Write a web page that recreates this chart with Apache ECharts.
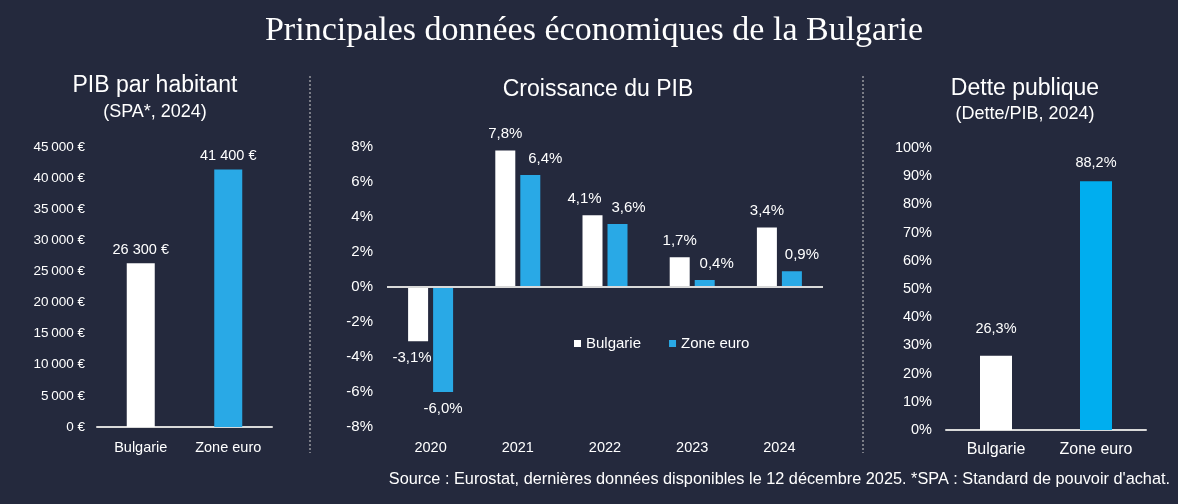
<!DOCTYPE html>
<html>
<head>
<meta charset="utf-8">
<script src="https://cdn.jsdelivr.net/npm/echarts@6/dist/echarts.min.js"></script>
<style>
html,body{margin:0;padding:0;background:#24293d;}
#c{width:1178px;height:504px;}
</style>
</head>
<body>
<div id="c"></div>
<script>
// ---- data ----
const pibCategories = ['Bulgarie', 'Zone euro'];
const pibValues = [26300, 41400];
const pibTicks = { min: 0, max: 45000, interval: 5000 };

const growthYears = ['2020', '2021', '2022', '2023', '2024'];
const growthBulgarie = [-3.1, 7.8, 4.1, 1.7, 3.4];
const growthZoneEuro = [-6.0, 6.4, 3.6, 0.4, 0.9];
const growthTicks = { min: -8, max: 8, interval: 2 };

const detteCategories = ['Bulgarie', 'Zone euro'];
const detteValues = [26.3, 88.2];
const detteTicks = { min: 0, max: 100, interval: 10 };

const seriesNames = ['Bulgarie', 'Zone euro'];

// ---- style ----
const BG = '#24293d';
const WHITE = '#ffffff';
const BLUE = '#29a9e6';
const BLUE2 = '#00aeef';
const AXIS = '#d9d9d9';
const SANS = '"Liberation Sans", Arial, Helvetica, sans-serif';
// horizontal nudges of the value labels in the growth panel (layout only)
const shiftBulgarie = [-6, 0, -8, 0, 0];
const shiftZone = [0, 15, 11, 12, 10];

function thin(n) {
  return String(n).replace(/\B(?=(\d{3})+(?!\d))/g, '\u2009');
}
function spaced(n) {
  return String(n).replace(/\B(?=(\d{3})+(?!\d))/g, ' ');
}
function pct(v) { return String(v.toFixed(1)).replace('.', ','); }

const chart = echarts.init(document.getElementById('c'));

const axisLabelBase = { color: WHITE, fontSize: 13, fontFamily: SANS };
const titleStyle = { color: WHITE, fontSize: 23, fontWeight: 'normal', fontFamily: SANS };
const subStyle = { color: WHITE, fontSize: 18, fontWeight: 'normal', fontFamily: SANS };

const option = {
  backgroundColor: BG,
  animation: false,
  title: [
    { text: 'Principales données économiques de la Bulgarie', left: 589, top: 9, textAlign: 'center',
      textStyle: { color: WHITE, fontSize: 34, fontWeight: 'normal', fontFamily: '"Liberation Serif", "DejaVu Serif", serif' } },
    { text: 'PIB par habitant', left: 155, top: 74, textAlign: 'center', padding: 0, textStyle: titleStyle },
    { text: '(SPA*, 2024)', left: 155, top: 103, textAlign: 'center', padding: 0, textStyle: subStyle },
    { text: 'Croissance du PIB', left: 598, top: 78, textAlign: 'center', padding: 0, textStyle: titleStyle },
    { text: 'Dette publique', left: 1025, top: 77, textAlign: 'center', padding: 0, textStyle: titleStyle },
    { text: '(Dette/PIB, 2024)', left: 1025, top: 105, textAlign: 'center', padding: 0, textStyle: subStyle }
  ],
  legend: {
    data: seriesNames,
    left: 569, top: 331,
    icon: 'rect', itemWidth: 7, itemHeight: 7, itemGap: 28,
    textStyle: { color: WHITE, fontSize: 15, fontFamily: SANS }
  },
  grid: [
    { left: 97, width: 175, top: 147, height: 280 },
    { left: 387, width: 436, top: 147, height: 280 },
    { left: 946, width: 200, top: 148, height: 282 }
  ],
  xAxis: [
    { type: 'category', gridIndex: 0, data: pibCategories,
      axisLine: { lineStyle: { color: AXIS, width: 2 } }, axisTick: { show: false },
      axisLabel: Object.assign({}, axisLabelBase, { fontSize: 14.5, margin: 13 }) },
    { type: 'category', gridIndex: 1, data: growthYears,
      axisLine: { show: false, onZero: false }, axisTick: { show: false },
      axisLabel: Object.assign({}, axisLabelBase, { fontSize: 14.5, margin: 13 }) },
    { type: 'category', gridIndex: 2, data: detteCategories,
      axisLine: { lineStyle: { color: AXIS, width: 2 } }, axisTick: { show: false },
      axisLabel: Object.assign({}, axisLabelBase, { fontSize: 16, margin: 12 }) }
  ],
  yAxis: [
    { type: 'value', gridIndex: 0, min: pibTicks.min, max: pibTicks.max, interval: pibTicks.interval,
      splitLine: { show: false }, axisLine: { show: false }, axisTick: { show: false },
      axisLabel: Object.assign({}, axisLabelBase, { fontSize: 13.5, margin: 12, formatter: v => thin(v) + ' €' }) },
    { type: 'value', gridIndex: 1, min: growthTicks.min, max: growthTicks.max, interval: growthTicks.interval,
      splitLine: { show: false }, axisLine: { show: false }, axisTick: { show: false },
      axisLabel: Object.assign({}, axisLabelBase, { fontSize: 15, margin: 14, formatter: v => v + '%' }) },
    { type: 'value', gridIndex: 2, min: detteTicks.min, max: detteTicks.max, interval: detteTicks.interval,
      splitLine: { show: false }, axisLine: { show: false }, axisTick: { show: false },
      axisLabel: Object.assign({}, axisLabelBase, { fontSize: 14.5, margin: 14, formatter: v => v + '%' }) }
  ],
  series: [
    { type: 'bar', xAxisIndex: 0, yAxisIndex: 0, barWidth: 28,
      data: pibValues.map((v, i) => ({ value: v, itemStyle: { color: i === 0 ? WHITE : BLUE } })),
      label: { show: true, position: 'top', distance: 6, color: WHITE, fontSize: 14.5, fontFamily: SANS,
               formatter: p => spaced(p.value) + ' €' } },
    { name: seriesNames[0], type: 'bar', xAxisIndex: 1, yAxisIndex: 1, barWidth: 20, barGap: '25%',
      itemStyle: { color: WHITE },
      data: growthBulgarie.map((v, i) => ({ value: v,
        label: { position: v < 0 ? 'bottom' : 'top', offset: [shiftBulgarie[i], 0] } })),
      label: { show: true, distance: 9, color: WHITE, fontSize: 15, fontFamily: SANS, formatter: p => pct(p.value) + '%' },
      markLine: { silent: true, symbol: 'none', label: { show: false },
        lineStyle: { color: AXIS, width: 2, type: 'solid' }, data: [{ yAxis: 0 }] },
      z: 2 },
    { name: seriesNames[1], type: 'bar', xAxisIndex: 1, yAxisIndex: 1, barWidth: 20, barGap: '25%',
      itemStyle: { color: BLUE },
      data: growthZoneEuro.map((v, i) => ({ value: v,
        label: { position: v < 0 ? 'bottom' : 'top', offset: [shiftZone[i], 0] } })),
      label: { show: true, distance: 9, color: WHITE, fontSize: 15, fontFamily: SANS, formatter: p => pct(p.value) + '%' } },
    { type: 'bar', xAxisIndex: 2, yAxisIndex: 2, barWidth: 32,
      data: detteValues.map((v, i) => ({ value: v, itemStyle: { color: i === 0 ? WHITE : BLUE2 },
        label: { distance: i === 0 ? 19 : 11 } })),
      label: { show: true, position: 'top', color: WHITE, fontSize: 14.5, fontFamily: SANS,
               formatter: p => pct(p.value) + '%' } }
  ],
  graphic: [
    { type: 'line', shape: { x1: 310, y1: 76, x2: 310, y2: 453 }, style: { stroke: '#d0d0d0', lineWidth: 1, lineDash: [2, 2] } },
    { type: 'line', shape: { x1: 863, y1: 76, x2: 863, y2: 453 }, style: { stroke: '#d0d0d0', lineWidth: 1, lineDash: [2, 2] } },
    { type: 'text', right: 8, top: 472,
      style: { text: 'Source : Eurostat, dernières données disponibles le 12 décembre 2025. *SPA : Standard de pouvoir d\'achat.',
               fill: WHITE, fontSize: 16.3, fontFamily: SANS } }
  ]
};
chart.setOption(option);
</script>
</body>
</html>
